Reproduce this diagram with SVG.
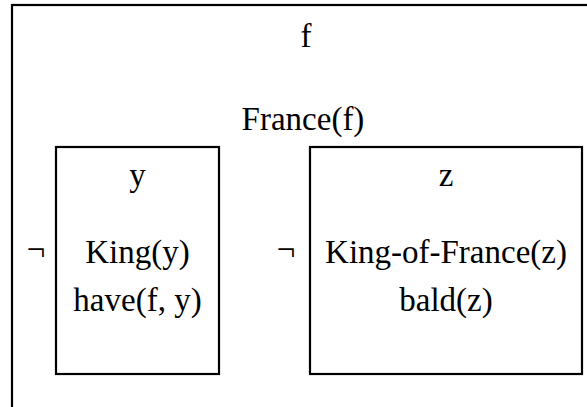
<svg xmlns="http://www.w3.org/2000/svg" width="587" height="407" viewBox="0 0 587 407">
<style>
text{font-family:'Liberation Serif','DejaVu Serif',serif;font-size:33px;fill:#000;text-anchor:middle}
.box{fill:none;stroke:#000;stroke-width:2.2}
</style>
<rect width="587" height="407" fill="#fff"/>
<g id="outer">
<rect class="box" x="12" y="5" width="620" height="440"/>
<text x="306" y="47">f</text>
<text x="303" y="130">France(f)</text>
</g>
<g id="neg1">
<text x="36" y="260">¬</text>
</g>
<g id="boxY">
<rect class="box" x="56" y="147" width="163" height="227"/>
<text x="137.5" y="186">y</text>
<text x="137.5" y="263">King(y)</text>
<text x="137.5" y="311">have(f, y)</text>
</g>
<g id="neg2">
<text x="286" y="260">¬</text>
</g>
<g id="boxZ">
<rect class="box" x="310" y="147" width="272" height="227"/>
<text x="446" y="186">z</text>
<text x="446" y="263">King-of-France(z)</text>
<text x="446" y="311">bald(z)</text>
</g>
<g id="connectors"></g>
</svg>
